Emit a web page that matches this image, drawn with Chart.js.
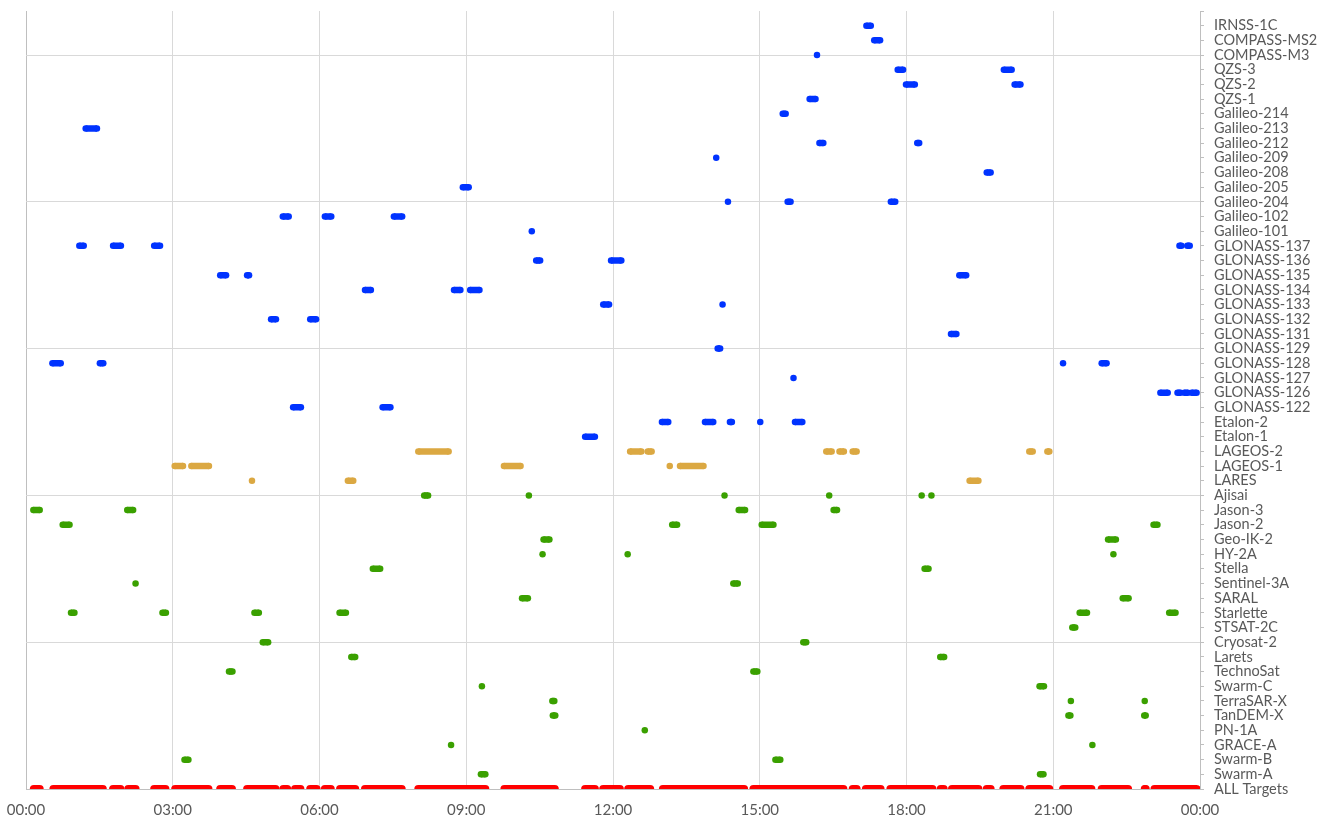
<!DOCTYPE html>
<html>
<head>
<meta charset="utf-8">
<script src="https://cdn.jsdelivr.net/npm/chart.js@4.4.0/dist/chart.umd.min.js"></script>
<style>
  html, body { margin: 0; padding: 0; background: #ffffff; }
  #wrap { width: 1320px; height: 820px; }
</style>
</head>
<body>
<div id="wrap"><canvas id="chart"></canvas></div>
<script>
// Rows from bottom (0) to top (52)
const targetNames = [
  "ALL Targets", "Swarm-A", "Swarm-B", "GRACE-A", "PN-1A", "TanDEM-X", "TerraSAR-X",
  "Swarm-C", "TechnoSat", "Larets", "Cryosat-2", "STSAT-2C", "Starlette", "SARAL",
  "Sentinel-3A", "Stella", "HY-2A", "Geo-IK-2", "Jason-2", "Jason-3", "Ajisai",
  "LARES", "LAGEOS-1", "LAGEOS-2", "Etalon-1", "Etalon-2", "GLONASS-122", "GLONASS-126",
  "GLONASS-127", "GLONASS-128", "GLONASS-129", "GLONASS-131", "GLONASS-132", "GLONASS-133",
  "GLONASS-134", "GLONASS-135", "GLONASS-136", "GLONASS-137", "Galileo-101", "Galileo-102",
  "Galileo-204", "Galileo-205", "Galileo-208", "Galileo-209", "Galileo-212", "Galileo-213",
  "Galileo-214", "QZS-1", "QZS-2", "QZS-3", "COMPASS-M3", "COMPASS-MS2", "IRNSS-1C"
];

const hourTicks = [0, 3, 6, 9, 12, 15, 18, 21, 24];
const hourLabels = ["00:00", "03:00", "06:00", "09:00", "12:00", "15:00", "18:00", "21:00", "00:00"];

// passes: [target, start hour, end hour]
const gnssPasses = [
  ["IRNSS-1C", 17.18, 17.27],
  ["COMPASS-MS2", 17.34, 17.46],
  ["COMPASS-M3", 16.17, 16.17],
  ["QZS-3", 17.82, 17.93], ["QZS-3", 19.99, 20.15],
  ["QZS-2", 17.99, 18.17], ["QZS-2", 20.21, 20.33],
  ["QZS-1", 16.02, 16.14],
  ["Galileo-214", 15.47, 15.53],
  ["Galileo-213", 1.22, 1.45],
  ["Galileo-212", 16.22, 16.30], ["Galileo-212", 18.22, 18.26],
  ["Galileo-209", 14.11, 14.11],
  ["Galileo-208", 19.64, 19.72],
  ["Galileo-205", 8.93, 9.05],
  ["Galileo-204", 14.35, 14.35], ["Galileo-204", 15.57, 15.63], ["Galileo-204", 17.68, 17.77],
  ["Galileo-102", 5.25, 5.37], ["Galileo-102", 6.11, 6.24], ["Galileo-102", 7.52, 7.69],
  ["Galileo-101", 10.34, 10.34],
  ["GLONASS-137", 1.09, 1.18], ["GLONASS-137", 1.78, 1.94], ["GLONASS-137", 2.62, 2.74],
  ["GLONASS-137", 23.58, 23.62], ["GLONASS-137", 23.74, 23.79],
  ["GLONASS-136", 10.43, 10.51], ["GLONASS-136", 11.96, 12.17],
  ["GLONASS-135", 3.97, 4.09], ["GLONASS-135", 4.52, 4.56], ["GLONASS-135", 19.08, 19.22],
  ["GLONASS-134", 6.93, 7.05], ["GLONASS-134", 8.75, 8.88], ["GLONASS-134", 9.08, 9.27],
  ["GLONASS-133", 11.80, 11.92], ["GLONASS-133", 14.24, 14.24],
  ["GLONASS-132", 5.01, 5.11], ["GLONASS-132", 5.81, 5.93],
  ["GLONASS-131", 18.91, 19.02],
  ["GLONASS-129", 14.14, 14.19],
  ["GLONASS-128", 0.54, 0.71], ["GLONASS-128", 1.51, 1.58], ["GLONASS-128", 21.20, 21.20],
  ["GLONASS-128", 21.99, 22.09],
  ["GLONASS-127", 15.69, 15.69],
  ["GLONASS-126", 23.19, 23.34], ["GLONASS-126", 23.54, 23.60], ["GLONASS-126", 23.68, 23.75],
  ["GLONASS-126", 23.83, 23.93],
  ["GLONASS-122", 5.46, 5.62], ["GLONASS-122", 7.29, 7.45],
  ["Etalon-2", 13.00, 13.13], ["Etalon-2", 13.88, 14.05], ["Etalon-2", 14.39, 14.43],
  ["Etalon-2", 15.01, 15.01], ["Etalon-2", 15.72, 15.87],
  ["Etalon-1", 11.43, 11.63]
];

const slrPasses = [
  ["LAGEOS-2", 8.02, 8.64], ["LAGEOS-2", 12.35, 12.58], ["LAGEOS-2", 12.71, 12.79],
  ["LAGEOS-2", 16.36, 16.47], ["LAGEOS-2", 16.63, 16.72], ["LAGEOS-2", 16.90, 16.98],
  ["LAGEOS-2", 20.51, 20.58], ["LAGEOS-2", 20.88, 20.92],
  ["LAGEOS-1", 3.04, 3.21], ["LAGEOS-1", 3.38, 3.74], ["LAGEOS-1", 9.77, 10.11],
  ["LAGEOS-1", 13.16, 13.16], ["LAGEOS-1", 13.37, 13.85],
  ["LARES", 4.62, 4.62], ["LARES", 6.58, 6.69], ["LARES", 19.29, 19.47]
];

const leoPasses = [
  ["Ajisai", 8.14, 8.22], ["Ajisai", 10.28, 10.28], ["Ajisai", 14.28, 14.28],
  ["Ajisai", 16.42, 16.42], ["Ajisai", 18.31, 18.31], ["Ajisai", 18.51, 18.51],
  ["Jason-3", 0.15, 0.28], ["Jason-3", 2.07, 2.19], ["Jason-3", 14.57, 14.70], ["Jason-3", 16.51, 16.58],
  ["Jason-2", 0.75, 0.89], ["Jason-2", 13.21, 13.31], ["Jason-2", 15.04, 15.28], ["Jason-2", 23.05, 23.13],
  ["Geo-IK-2", 10.58, 10.70], ["Geo-IK-2", 22.12, 22.28],
  ["HY-2A", 10.56, 10.56], ["HY-2A", 12.30, 12.30], ["HY-2A", 22.23, 22.23],
  ["Stella", 7.09, 7.24], ["Stella", 18.37, 18.45],
  ["Sentinel-3A", 2.24, 2.24], ["Sentinel-3A", 14.46, 14.55],
  ["SARAL", 10.14, 10.26], ["SARAL", 22.42, 22.54],
  ["Starlette", 0.92, 0.99], ["Starlette", 2.79, 2.86], ["Starlette", 4.67, 4.76],
  ["Starlette", 6.41, 6.54], ["Starlette", 21.54, 21.69], ["Starlette", 23.37, 23.50],
  ["STSAT-2C", 21.39, 21.45],
  ["Cryosat-2", 4.84, 4.95], ["Cryosat-2", 15.89, 15.95],
  ["Larets", 6.65, 6.73], ["Larets", 18.69, 18.77],
  ["TechnoSat", 4.15, 4.22], ["TechnoSat", 14.87, 14.95],
  ["Swarm-C", 9.32, 9.32], ["Swarm-C", 20.72, 20.81],
  ["TerraSAR-X", 10.76, 10.80], ["TerraSAR-X", 21.36, 21.36], ["TerraSAR-X", 22.87, 22.87],
  ["TanDEM-X", 10.77, 10.82], ["TanDEM-X", 21.31, 21.35], ["TanDEM-X", 22.86, 22.89],
  ["PN-1A", 12.65, 12.65],
  ["GRACE-A", 8.69, 8.69], ["GRACE-A", 21.80, 21.80],
  ["Swarm-B", 3.24, 3.32], ["Swarm-B", 15.32, 15.42],
  ["Swarm-A", 9.30, 9.39], ["Swarm-A", 20.73, 20.80]
];

// union row at the bottom: [start hour, end hour]
const allTargetPasses = [
  [0.16, 0.28], [0.56, 1.57], [1.78, 1.93], [2.09, 2.24], [2.62, 2.85], [3.05, 3.73],
  [3.97, 4.21], [4.52, 5.10], [5.26, 5.34], [5.50, 5.61], [5.81, 5.94], [6.11, 6.23],
  [6.42, 6.73], [6.93, 7.68], [8.02, 9.39], [9.78, 10.81], [11.43, 11.63], [11.80, 12.14],
  [12.31, 12.76], [13.02, 14.68], [14.87, 16.71], [16.90, 16.98], [17.17, 17.47],
  [17.67, 18.53], [18.70, 18.76], [18.93, 19.47], [19.64, 19.72], [19.98, 20.33],
  [20.51, 20.92], [21.20, 21.78], [21.99, 22.53], [22.87, 22.89], [23.07, 23.93]
];

// each pass becomes start/end points with a null gap after it
function toPoints(passes) {
  const pts = [];
  passes.forEach((p) => {
    const row = targetNames.indexOf(p[0]);
    pts.push({ x: p[1], y: row });
    if (p[2] !== p[1]) pts.push({ x: p[2], y: row });
    pts.push({ x: null, y: null });
  });
  return pts;
}

function passSet(label, passes, color, width) {
  return {
    label: label,
    data: toPoints(passes),
    borderColor: color,
    backgroundColor: color,
    borderWidth: width,
    borderCapStyle: "butt",
    pointRadius: width / 2,
    pointBorderWidth: 0,
    pointBackgroundColor: color,
    spanGaps: false,
    fill: false,
  };
}

const allSet = passSet("ALL Targets", allTargetPasses.map((p) => ["ALL Targets", p[0], p[1]]), "#ff0000", 8);
allSet.clip = 0; // bottom row sits on the axis, half hidden

new Chart(document.getElementById("chart"), {
  type: "line",
  data: {
    datasets: [
      passSet("GNSS", gnssPasses, "#0033ff", 6.5),
      passSet("SLR", slrPasses, "#dba842", 6.5),
      passSet("LEO", leoPasses, "#3aa000", 6.5),
      allSet,
    ],
  },
  options: {
    responsive: true,
    maintainAspectRatio: false,
    animation: false,
    events: [],
    layout: { padding: { left: 26, top: 11, right: 0, bottom: 0 } },
    plugins: {
      legend: { display: false },
      tooltip: { enabled: false },
    },
    scales: {
      x: {
        type: "linear",
        min: 0,
        max: 24,
        afterBuildTicks: (axis) => {
          axis.ticks = hourTicks.map((v) => ({ value: v }));
        },
        afterFit: (axis) => {
          axis.height = 31;
          axis.paddingLeft = 0;
          axis.paddingRight = 0;
        },
        grid: {
          color: (c) => (c.tick && c.tick.value === 0 ? "#bfbfbf" : "#d9d9d9"),
          drawTicks: false,
        },
        border: { color: "#bfbfbf" },
        ticks: {
          autoSkip: false,
          maxRotation: 0,
          padding: 12,
          color: "#595959",
          font: { family: "Lato", size: 15 },
          callback: (v, i) => hourLabels[i],
        },
      },
      y: {
        type: "linear",
        position: "right",
        min: 0,
        max: 53,
        afterBuildTicks: (axis) => {
          axis.ticks = targetNames.concat([""]).map((_, i) => ({ value: i }));
        },
        afterFit: (axis) => {
          axis.width = 120;
          axis.paddingTop = 0;
          axis.paddingBottom = 0;
        },
        grid: {
          color: (c) => (c.tick && c.tick.value % 10 === 0 ? "#d9d9d9" : "rgba(0,0,0,0)"),
          tickColor: "#bfbfbf",
          tickLength: 4,
        },
        border: { color: "#bfbfbf" },
        ticks: {
          autoSkip: false,
          padding: 10,
          color: "#595959",
          font: { family: "Lato", size: 14.5 },
          callback: (v) => targetNames[v] || "",
        },
      },
    },
  },
});
</script>
</body>
</html>
